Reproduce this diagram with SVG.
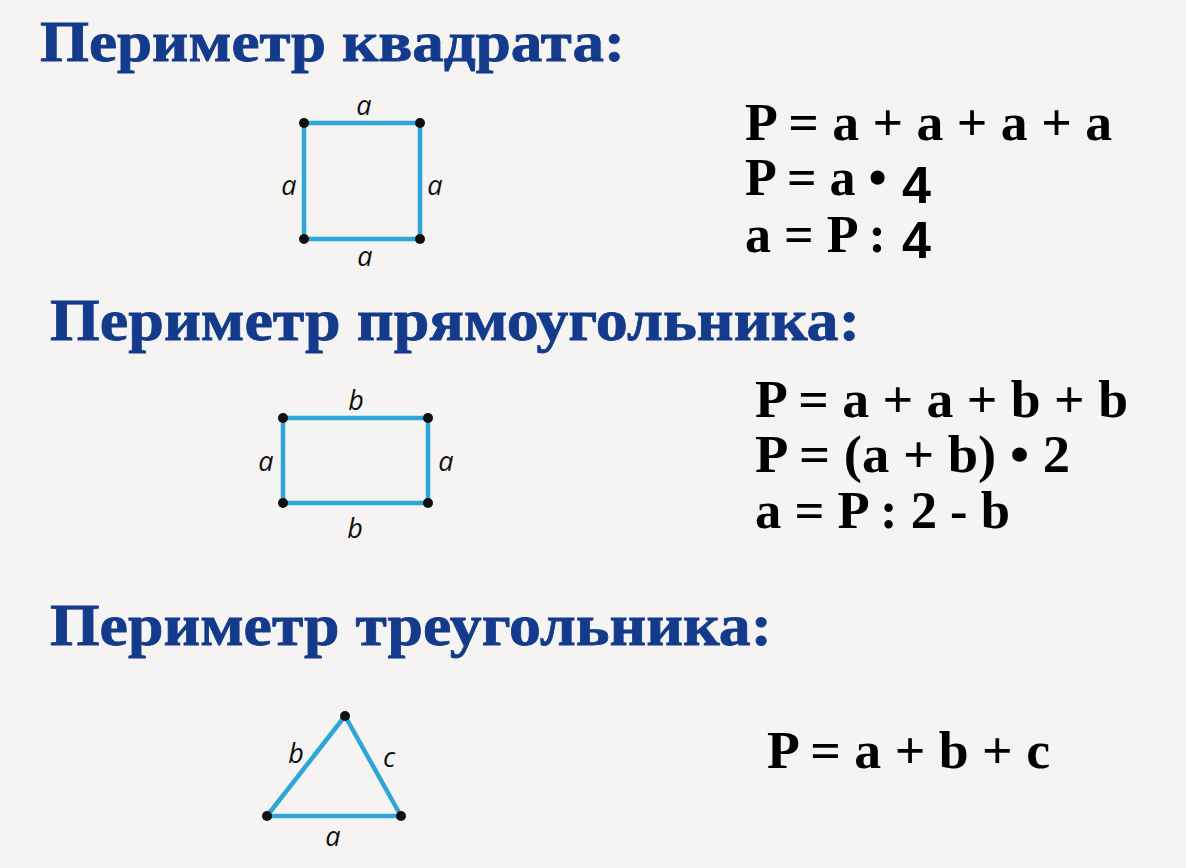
<svg xmlns="http://www.w3.org/2000/svg" width="1186" height="868" viewBox="0 0 1186 868">
<style>
.title{font-family:"Liberation Serif","Times New Roman",serif;font-weight:bold;fill:#143a8c;stroke:#143a8c;stroke-width:0.8;font-size:56px}
.f{font-family:"Liberation Serif","Times New Roman",serif;font-weight:bold;fill:#000;font-size:52px}
.n{font-family:"Liberation Sans",Arial,sans-serif;font-weight:bold;fill:#000;font-size:52px}
.lb{font-family:"Open Sans","DejaVu Sans",sans-serif;font-style:italic;fill:#111;font-size:27px;text-anchor:middle}
.edge{stroke:#2ea6d8;stroke-width:4.5;fill:none;stroke-linejoin:round}
.dot{fill:#111}
</style>
<rect width="1186" height="868" fill="#f5f4f2"/>
<g id="titles">
<text class="title" x="40" y="61" textLength="585" lengthAdjust="spacingAndGlyphs">Периметр квадрата:</text>
<text class="title" x="50" y="340" textLength="810" lengthAdjust="spacingAndGlyphs" style="font-size:60px">Периметр прямоугольника:</text>
<text class="title" x="50" y="645" textLength="722" lengthAdjust="spacingAndGlyphs" style="font-size:60px">Периметр треугольника:</text>
</g>
<g id="square">
<rect class="edge" x="304" y="123" width="116" height="116"/>
<circle class="dot" cx="304" cy="123" r="5"/><circle class="dot" cx="420" cy="123" r="5"/>
<circle class="dot" cx="304" cy="239" r="5"/><circle class="dot" cx="420" cy="239" r="5"/>
<text class="lb" x="364" y="115">a</text>
<text class="lb" x="289" y="195">a</text>
<text class="lb" x="435" y="195">a</text>
<text class="lb" x="365" y="266">a</text>
</g>
<g id="square-formulas">
<text class="f" x="745" y="140" textLength="367" lengthAdjust="spacingAndGlyphs">P = a + a + a + a</text>
<text class="f" x="745" y="195">P = a • </text>
<text class="n" x="902" y="203">4</text>
<text class="f" x="745" y="252">a = P : </text>
<text class="n" x="902" y="258">4</text>
</g>
<g id="rectangle">
<rect class="edge" x="283" y="418" width="145" height="85"/>
<circle class="dot" cx="283" cy="418" r="5"/><circle class="dot" cx="428" cy="418" r="5"/>
<circle class="dot" cx="283" cy="503" r="5"/><circle class="dot" cx="428" cy="503" r="5"/>
<text class="lb" x="356" y="410">b</text>
<text class="lb" x="266" y="471">a</text>
<text class="lb" x="446" y="471">a</text>
<text class="lb" x="355" y="538">b</text>
</g>
<g id="rectangle-formulas">
<text class="f" x="755" y="417" textLength="373" lengthAdjust="spacingAndGlyphs">P = a + a + b + b</text>
<text class="f" x="755" y="472" textLength="315" lengthAdjust="spacingAndGlyphs">P = (a + b) • 2</text>
<text class="f" x="755" y="528" textLength="255" lengthAdjust="spacingAndGlyphs">a = P : 2 - b</text>
</g>
<g id="triangle">
<polygon class="edge" points="345,716 401,816 267,816"/>
<circle class="dot" cx="345" cy="716" r="5"/><circle class="dot" cx="267" cy="816" r="5"/><circle class="dot" cx="401" cy="816" r="5"/>
<text class="lb" x="296" y="763">b</text>
<text class="lb" x="389" y="767">c</text>
<text class="lb" x="333" y="846">a</text>
</g>
<g id="triangle-formula">
<text class="f" x="767" y="768" textLength="283" lengthAdjust="spacingAndGlyphs">P = a + b + c</text>
</g>
</svg>
